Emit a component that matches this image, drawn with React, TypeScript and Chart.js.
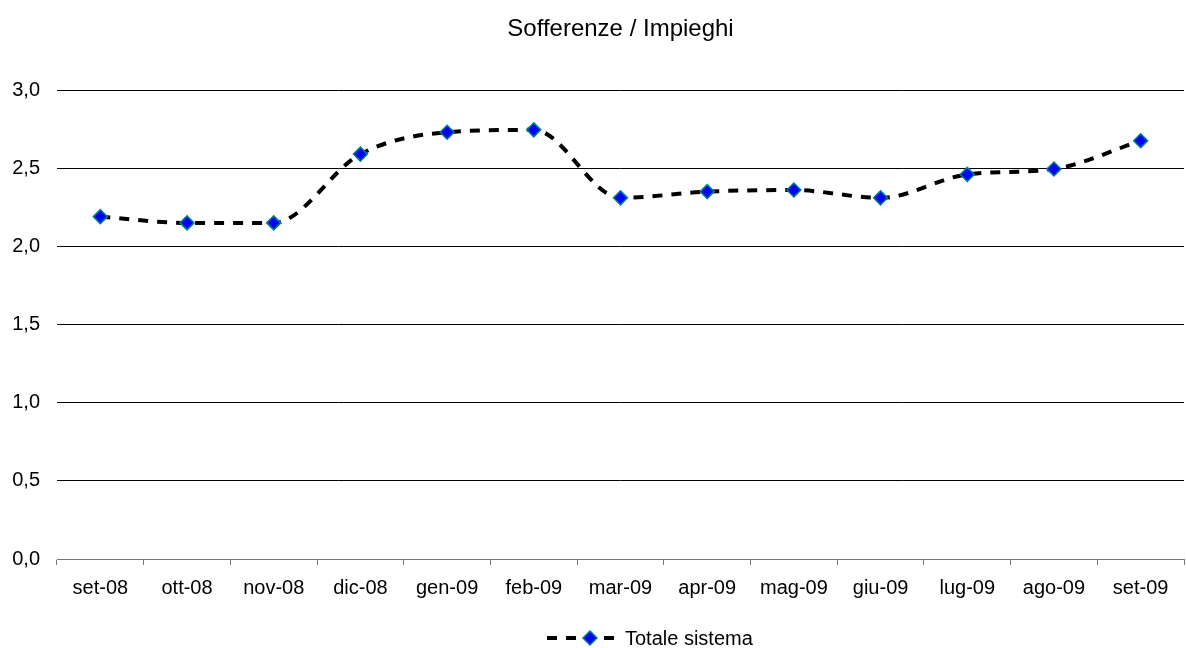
import React, { useEffect, useRef } from "react";
import { Chart, registerables } from "chart.js";

Chart.register(...registerables);

const categories = ["set-08", "ott-08", "nov-08", "dic-08", "gen-09", "feb-09", "mar-09", "apr-09", "mag-09", "giu-09", "lug-09", "ago-09", "set-09"];
const totaleSistema = [2.19, 2.15, 2.15, 2.59, 2.73, 2.745, 2.31, 2.35, 2.36, 2.31, 2.46, 2.495, 2.675];
const seriesName = "Totale sistema";
const titleText = "Sofferenze / Impieghi";

const FONT = "'Liberation Sans', Arial, sans-serif";

const legendPlugin = {
  id: "customLegend",
  afterDraw(chart: any) {
    const ctx = chart.ctx;
    const cx = chart.width / 2;
    const y = 638;
    ctx.save();
    ctx.strokeStyle = "#000";
    ctx.lineWidth = 4;
    ctx.setLineDash([10, 9]);
    ctx.beginPath();
    ctx.moveTo(cx - 46, y);
    ctx.lineTo(cx + 26, y);
    ctx.stroke();
    ctx.setLineDash([]);
    const dx = cx - 3;
    const r = 7;
    ctx.beginPath();
    ctx.moveTo(dx, y - r);
    ctx.lineTo(dx + r, y);
    ctx.lineTo(dx, y + r);
    ctx.lineTo(dx - r, y);
    ctx.closePath();
    ctx.fillStyle = "#0000FF";
    ctx.fill();
    ctx.strokeStyle = "#008080";
    ctx.lineWidth = 1.5;
    ctx.stroke();
    ctx.fillStyle = "#000";
    ctx.font = "20px " + FONT;
    ctx.textBaseline = "middle";
    ctx.textAlign = "left";
    ctx.fillText(seriesName, cx + 32, y + 1);
    ctx.restore();
  },
};

export default function App() {
  const ref = useRef<HTMLCanvasElement | null>(null);
  useEffect(() => {
    document.body.style.margin = "0";
    const canvas = ref.current!;
    const chart = new Chart(canvas, {
      type: "line",
      data: {
        labels: categories,
        datasets: [
          {
            label: seriesName,
            data: totaleSistema,
            borderColor: "#000",
            borderWidth: 4,
            borderDash: [10, 9],
            cubicInterpolationMode: "monotone",
            pointStyle: "rectRot",
            pointRadius: 7,
            pointBackgroundColor: "#0000FF",
            pointBorderColor: "#008080",
            pointBorderWidth: 1.5,
            fill: false,
          },
        ],
      },
      options: {
        animation: false,
        responsive: false,
        devicePixelRatio: 1,
        layout: { autoPadding: false, padding: { left: 0, right: 2, top: 0, bottom: 37 } },
        plugins: {
          legend: { display: false },
          tooltip: { enabled: false },
          title: {
            display: true,
            fullSize: false,
            text: titleText,
            color: "#000",
            font: { family: FONT, size: 24, weight: "normal" },
            padding: { top: 14.6, bottom: 46.6 },
          },
        },
        scales: {
          x: {
            offset: true,
            afterFit: (scale: any) => {
              scale.paddingLeft = 0;
              scale.paddingRight = 0;
            },
            grid: {
              offset: true,
              drawOnChartArea: false,
              drawTicks: true,
              tickLength: 6,
              color: "#777",
            },
            border: { display: true, color: "#777", width: 1 },
            ticks: {
              color: "#000",
              padding: 11,
              maxRotation: 0,
              autoSkip: false,
              font: { family: FONT, size: 20 },
            },
          },
          y: {
            min: 0,
            max: 3,
            afterFit: (scale: any) => {
              scale.width = 57;
            },
            grid: { color: "#000", lineWidth: 1, drawTicks: false },
            border: { display: false },
            ticks: {
              stepSize: 0.5,
              color: "#000",
              padding: 17,
              font: { family: FONT, size: 20 },
              callback: (v: any) => Number(v).toFixed(1).replace(".", ","),
            },
          },
        },
      },
      plugins: [legendPlugin],
    });
    return () => chart.destroy();
  }, []);
  return <canvas ref={ref} width={1186} height={648} style={{ display: "block" }} />;
}
